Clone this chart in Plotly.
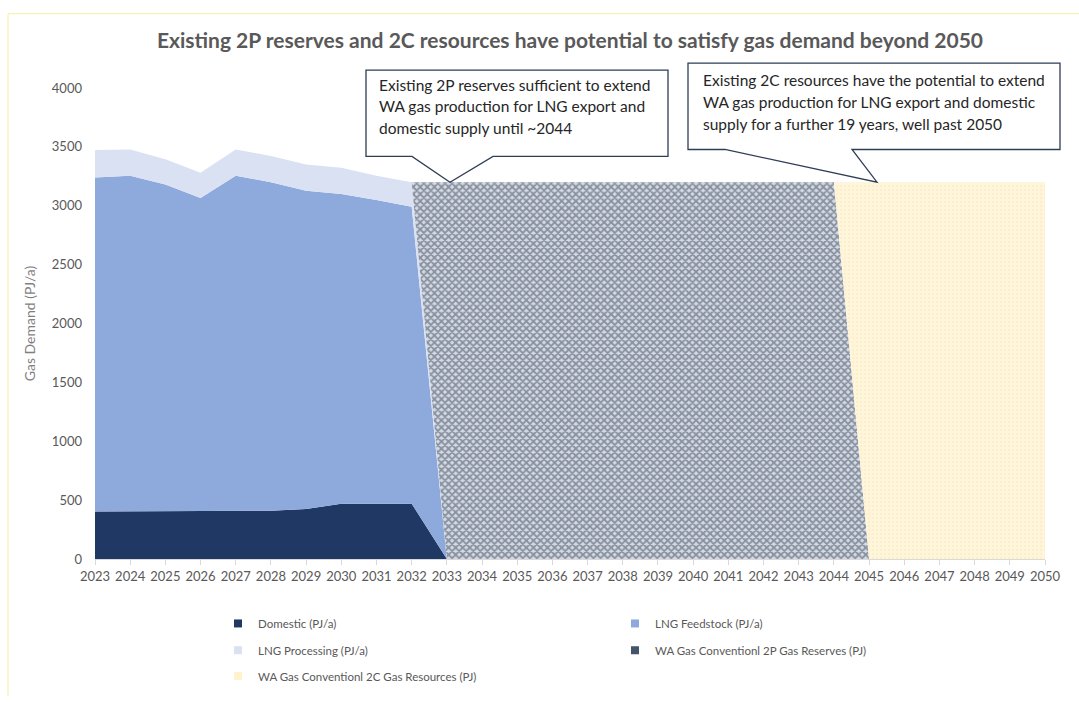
import plotly.graph_objects as go

# ---- data ----
years = list(range(2023, 2051))
domestic = [404, 404, 410, 404, 404, 410, 425, 470, 470, 470] + [0] * 18
lng_feedstock = [2836, 2851, 2770, 2661, 2851, 2790, 2702, 2629, 2578, 2522] + [0] * 18
lng_processing = [233, 223, 214, 215, 223, 223, 224, 224, 206, 208] + [0] * 18
reserves_2p = [0] * 10 + [3200] * 12 + [0] * 6
resources_2c = [0] * 22 + [3200] * 6

series_names = [
    "Domestic (PJ/a)",
    "LNG Feedstock (PJ/a)",
    "LNG Processing (PJ/a)",
    "WA Gas Conventionl 2P Gas Reserves (PJ)",
    "WA Gas Conventionl 2C Gas Resources (PJ)",
]
y_ticks = [0, 500, 1000, 1500, 2000, 2500, 3000, 3500, 4000]

callout_2p = [
    "Existing 2P reserves sufficient to extend",
    "WA gas production for LNG export and",
    "domestic supply until ~2044",
]
callout_2c = [
    "Existing 2C resources have the potential to extend",
    "WA gas production for LNG export and domestic",
    "supply for a further 19 years, well past 2050",
]

FONT = "Lato, 'Open Sans', sans-serif"
GREY = "#595959"

# plot area in page pixels
L, R, T, B = 95, 1045, 88, 563
W, H = 1079, 702


def fx(x):
    return (x - L) / (R - L)


def fy(y):
    return (B - y) / (B - T)


fig = go.Figure()

styles = [
    dict(fillcolor="#203864"),
    dict(fillcolor="#8EA9DB"),
    dict(fillcolor="#D9E1F2"),
    dict(fillcolor="#6E7A8E",
         fillpattern=dict(shape="x", fgcolor="#3A475E", bgcolor="#D5DAE2",
                          size=5, solidity=0.6)),
    dict(fillcolor="#FFF3D4",
         fillpattern=dict(shape=".", fgcolor="#FAE8BE", bgcolor="#FFF5DA",
                          size=4, solidity=0.25)),
]
values = [domestic, lng_feedstock, lng_processing, reserves_2p, resources_2c]

for name, vals, st in zip(series_names, values, styles):
    fig.add_trace(go.Scatter(
        x=years, y=vals, name=name, stackgroup="supply", mode="lines",
        line=dict(width=0), showlegend=False, hoverinfo="x+y+name", **st,
    ))

# legend entries: small squares, two per row
legend_ids = ["legend", "legend", "legend2", "legend2", "legend3"]
legend_colors = ["#203864", "#8EA9DB", "#D9E1F2", "#44546A", "#FFF2CC"]
legend_symbols = ["square", "square", "square", "square-x", "square"]
for name, lid, col, sym in zip(series_names, legend_ids, legend_colors, legend_symbols):
    fig.add_trace(go.Scatter(
        x=[None], y=[None], mode="markers", name=name, legend=lid,
        marker=dict(symbol=sym, size=8, color=col,
                    line=dict(width=0)),
        showlegend=True,
    ))

legend_common = dict(
    orientation="h", xanchor="left", yanchor="middle",
    entrywidth=352, entrywidthmode="pixels", itemwidth=30,
    font=dict(family=FONT, size=11.5, color=GREY),
    bgcolor="rgba(0,0,0,0)", traceorder="normal",
)

shapes = []


def callout(box, base, apex):
    x0, y0, x1, y1 = box
    b0, b1 = base
    ax, ay = apex
    pts = [(x0, y0), (x1, y0), (x1, y1), (b1, y1), (ax, ay), (b0, y1), (x0, y1)]
    path = "M " + " L ".join(f"{fx(px):.5f},{fy(py):.5f}" for px, py in pts) + " Z"
    return dict(type="path", xref="paper", yref="paper", path=path,
                fillcolor="white", line=dict(color="#2F3D57", width=1.3), layer="above")


shapes.append(callout((366, 70, 668, 157), (412, 493), (450, 183)))
shapes.append(callout((688, 63, 1060, 150), (725, 852), (877, 183)))

# pale outer frame
shapes.append(dict(type="line", xref="paper", yref="paper",
                   x0=fx(8), x1=fx(1079), y0=fy(13), y1=fy(13),
                   line=dict(color="#F7F3B0", width=1.2)))
shapes.append(dict(type="line", xref="paper", yref="paper",
                   x0=fx(8), x1=fx(8), y0=fy(13), y1=fy(702),
                   line=dict(color="#F7F3B0", width=1.2)))

annotations = []
for i, line in enumerate(callout_2p):
    annotations.append(dict(
        xref="paper", yref="paper", x=fx(377), y=fy(85 + i * 21.5),
        xanchor="left", yanchor="middle", showarrow=False, text=line,
        font=dict(family=FONT, size=15.5, color="#262626")))
for i, line in enumerate(callout_2c):
    annotations.append(dict(
        xref="paper", yref="paper", x=fx(701), y=fy(80 + i * 22),
        xanchor="left", yanchor="middle", showarrow=False, text=line,
        font=dict(family=FONT, size=15.5, color="#262626")))

fig.update_layout(
    width=W, height=H,
    margin=dict(l=L, r=W - R, t=T, b=H - B),
    paper_bgcolor="white", plot_bgcolor="white",
    title=dict(text="<b>Existing 2P reserves and 2C resources have potential to satisfy gas demand beyond 2050</b>",
               x=0.5, xref="paper", xanchor="center",
               y=1 - 41 / H, yanchor="middle",
               font=dict(family=FONT, size=21, color=GREY)),
    xaxis=dict(range=[2023, 2050], tickvals=years, ticktext=[str(y) for y in years],
               showgrid=False, zeroline=False, showline=True, linecolor="#D9D9D9",
               linewidth=1, ticks="outside", ticklen=5, tickcolor="#D9D9D9",
               tickfont=dict(family=FONT, size=13, color=GREY)),
    yaxis=dict(range=[0, 4000], tickvals=y_ticks, showgrid=False, zeroline=False,
               showline=False, ticks="", ticklabelstandoff=12,
               tickfont=dict(family=FONT, size=13, color=GREY),
               title=dict(text="Gas Demand (PJ/a)", standoff=12,
                          font=dict(family=FONT, size=14, color="#7F7F7F"))),
    legend=dict(x=fx(218), y=fy(628), **legend_common),
    legend2=dict(x=fx(218), y=fy(655), **legend_common),
    legend3=dict(x=fx(218), y=fy(681), **legend_common),
    shapes=shapes,
    annotations=annotations,
    showlegend=True,
)

fig.write_html("out.html")
